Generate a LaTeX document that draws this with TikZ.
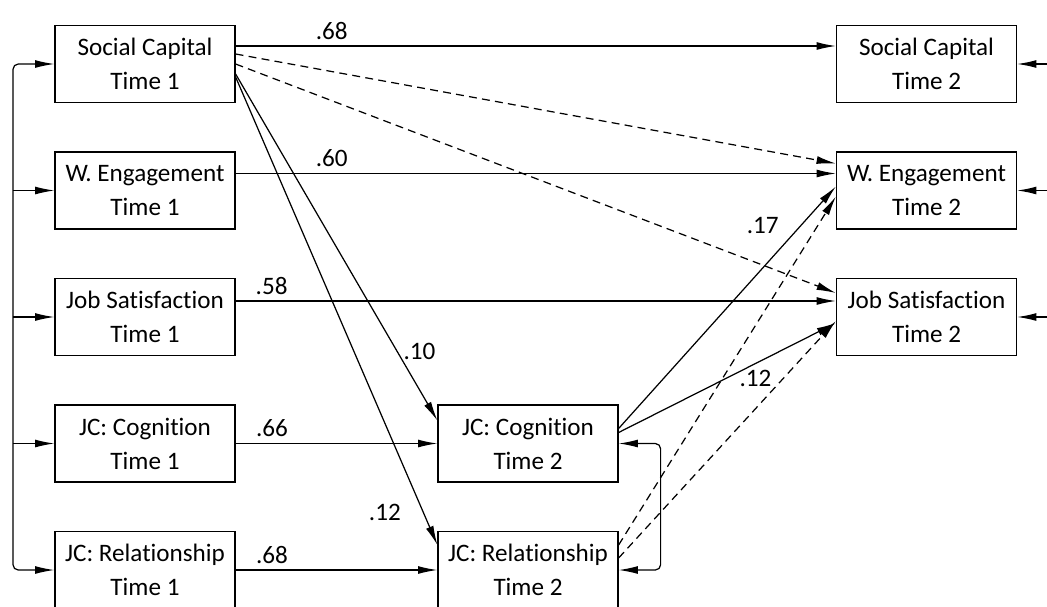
\documentclass[tikz,border=0pt]{standalone}
\usepackage{fontspec}
\setmainfont[Ligatures=NoCommon]{Carlito}
\usepackage{tikz}
\usetikzlibrary {positioning}
\usetikzlibrary{arrows.meta}
\tikzset{edge/.style = {->,> = {Latex[length=11pt,width=4.5pt]}}}
\tikzset{dashedge/.style = {edge,dash pattern=on 4.5pt off 3pt}}

\begin{document}
\begin{tikzpicture}[node distance=2.53cm,line width=0.7pt,main node/.style={rectangle,draw,align=center,inner sep=0pt,minimum width=3.6cm,minimum height=1.54cm,font=\fontsize{14.3}{19.3}\selectfont}]
            \useasboundingbox (0,0) rectangle (20.94,-12.12);
            \node[main node] (sc1) at (2.9,-1.28) {Social Capital\\Time 1};
            \node[main node] (we1) [below of=sc1] {W. Engagement\\Time 1};
            \node[main node] (js1) [below of=we1] {Job Satisfaction\\Time 1};
            \node[main node] (jcc1) [below of=js1] {JC: Cognition\\Time 1};
            \node[main node] (jcr1) [below of=jcc1] {JC: Relationship\\Time 1};

            \node[main node] (sc2) [right of=sc1,node distance=15.63cm] {Social Capital\\Time 2};
            \node[main node] (we2) [below of=sc2] {W. Engagement\\Time 2};
            \node[main node] (js2) [below of=we2] {Job Satisfaction\\Time 2};
            \node[main node] (jcc2) [right of=jcc1,node distance=7.66cm] {JC: Cognition\\Time 2};
            \node[main node] (jcr2) [below of=jcc2] {JC: Relationship\\Time 2};

            \coordinate (lb) at (0.26,-5);
            \coordinate (rim) at (20.94,0);

            % stability paths
            \path[edge,every node/.style={font=\fontsize{14.3}{17}\selectfont}]
                ([yshift=0.36cm]sc1.east) edge node [pos=0.16,above] {.68} ([yshift=0.36cm]sc2.west)
                ([yshift=0.34cm]we1.east) edge node [pos=0.16,above] {.60} ([yshift=0.34cm]we2.west)
                ([yshift=0.32cm]js1.east) edge node [pos=0.06,above] {.58} ([yshift=0.32cm]js2.west)
                (jcc1.east) edge node [pos=0.18,above] {.66} (jcc2.west)
                (jcr1.east) edge node [pos=0.18,above] {.68} (jcr2.west)
                ;

            % cross-lagged paths
            \path[edge,every node/.style={font=\fontsize{14.3}{17}\selectfont}]
                ([yshift=-0.2cm]sc1.east) edge node [pos=0.8,right] {.10} ([yshift=0.46cm]jcc2.west)
                ([yshift=-0.26cm]sc1.east) edge node [pos=0.93,left=0.32cm] {.12} ([yshift=0.5cm]jcr2.west)
                ([yshift=0.3cm]jcc2.east) edge node [pos=0.84,left=0.32cm] {.17} ([yshift=0.08cm]we2.west)
                ([yshift=0.22cm]jcc2.east) edge node [pos=0.63,below] {.12} ([yshift=-0.12cm]js2.west)
                ;
            \path[dashedge]
                ([yshift=0.2cm]sc1.east) edge ([yshift=0.54cm]we2.west)
                (sc1.east) edge ([yshift=0.48cm]js2.west)
                ([yshift=0.5cm]jcr2.east) edge ([yshift=-0.12cm]we2.west)
                ([yshift=0.24cm]jcr2.east) edge ([yshift=-0.08cm]js2.west)
                ;

            % covariances and residuals
            \draw[edge,<->,rounded corners=3pt] (sc1.west) -| (lb) |- (jcr1.west);
            \draw[edge] (lb |- we1.west) -- (we1.west);
            \draw[edge] (lb |- js1.west) -- (js1.west);
            \draw[edge] (lb |- jcc1.west) -- (jcc1.west);
            \draw[edge,<->,rounded corners=3pt] (jcc2.east) -- ++(0.84,0) |- (jcr2.east);
            \draw[edge] (sc2.east -| rim) -- (sc2.east);
            \draw[edge] (we2.east -| rim) -- (we2.east);
            \draw[edge] (js2.east -| rim) -- (js2.east);
        \end{tikzpicture}
\end{document}
